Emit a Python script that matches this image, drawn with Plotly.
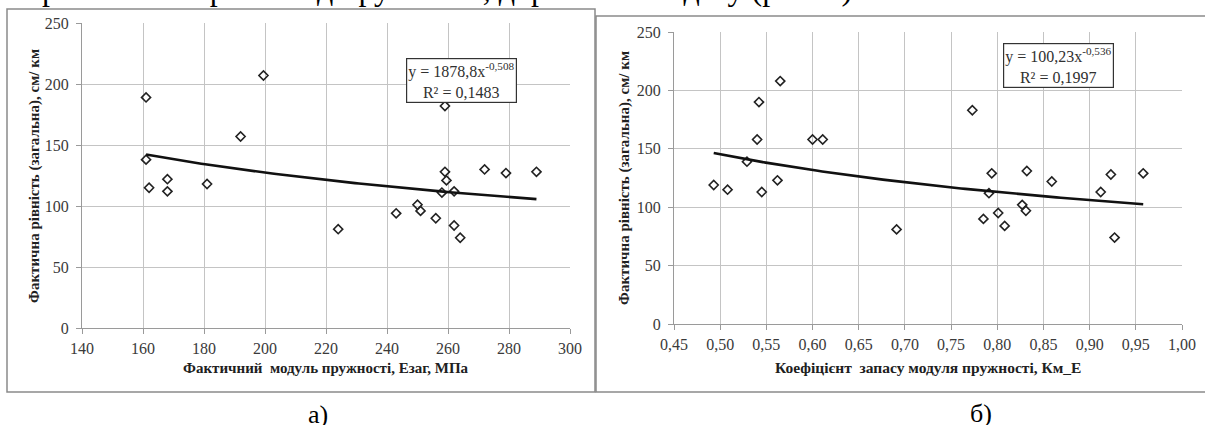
import numpy as np
import plotly.graph_objects as go

# ---- Data: panel a) ----
e_zag = [161, 161, 162, 168, 168, 181, 192, 199.5, 224, 243, 250, 251, 256,
         258, 259, 259, 259.5, 262, 262, 264, 272, 279, 289]
rough_a = [189, 138, 115, 122, 112, 118, 157, 207, 81, 94, 101, 96, 90,
           111, 182, 128, 121, 112, 84, 74, 130, 127, 128]
fit_a = (1878.8, -0.508)
eq_a = "y = 1878,8x<sup>-0,508</sup><br>R² = 0,1483"

# ---- Data: panel б) ----
km_e = [0.493, 0.508, 0.529, 0.540, 0.542, 0.545, 0.562, 0.565, 0.600, 0.611,
        0.691, 0.773, 0.785, 0.791, 0.794, 0.801, 0.808, 0.827, 0.831, 0.832,
        0.859, 0.912, 0.923, 0.927, 0.958]
rough_b = [119, 115, 139, 158, 190, 113, 123, 208, 158, 158,
           81, 183, 90, 112, 129, 95, 84, 102, 97, 131,
           122, 113, 128, 74, 129]
fit_b = (100.23, -0.536)
eq_b = "y = 100,23x<sup>-0,536</sup><br>R² = 0,1997"

y_title = "Фактична рівність (загальна), см/ км"
x_title_a = "Фактичний  модуль пружності, Езаг, МПа"
x_title_b = "Коефіцієнт  запасу модуля пружності, Км_Е"
top_text = "рівності покриття від пружності, дорожнього одягу (рис. 4)"

W, H = 1205, 425
def px(x): return x / W
def py(y): return 1 - y / H

SERIF = "Liberation Serif"
GRID = "#c4c4c4"
AXL = "#9a9a9a"
TXT = "#3a3a3a"

fig = go.Figure()

marker = dict(symbol="diamond-open", size=7, color="#222222", line=dict(width=1.6, color="#222222"))

fig.add_trace(go.Scatter(x=e_zag, y=rough_a, mode="markers", marker=marker,
                         xaxis="x", yaxis="y", showlegend=False))
xa = np.linspace(min(e_zag), max(e_zag), 100)
fig.add_trace(go.Scatter(x=xa, y=fit_a[0] * xa ** fit_a[1], mode="lines",
                         line=dict(color="#111111", width=2.6),
                         xaxis="x", yaxis="y", showlegend=False))

fig.add_trace(go.Scatter(x=km_e, y=rough_b, mode="markers", marker=marker,
                         xaxis="x2", yaxis="y2", showlegend=False))
xb = np.linspace(min(km_e), max(km_e), 100)
fig.add_trace(go.Scatter(x=xb, y=fit_b[0] * xb ** fit_b[1], mode="lines",
                         line=dict(color="#111111", width=2.6),
                         xaxis="x2", yaxis="y2", showlegend=False))

def xaxis(domain, rng, dtick, fmt, anchor):
    return dict(domain=domain, range=rng, dtick=dtick, tick0=rng[0], tickformat=fmt,
                showgrid=True, gridcolor=GRID, gridwidth=1,
                showline=True, linecolor=AXL, linewidth=1,
                ticks="outside", ticklen=5, tickcolor=AXL,
                ticklabelstandoff=1, automargin=False,
                tickfont=dict(family=SERIF, size=16, color=TXT),
                zeroline=False, anchor=anchor, fixedrange=True)

def yaxis(domain, anchor):
    return dict(domain=domain, range=[0, 250], dtick=50,
                showgrid=True, gridcolor=GRID, gridwidth=1,
                showline=True, linecolor=AXL, linewidth=1,
                ticks="outside", ticklen=5, tickcolor=AXL,
                ticklabelstandoff=4, automargin=False,
                tickfont=dict(family=SERIF, size=16, color=TXT),
                zeroline=False, anchor=anchor, fixedrange=True)

fig.update_layout(
    width=W, height=H,
    margin=dict(l=0, r=0, t=0, b=0, pad=0, autoexpand=False),
    paper_bgcolor="white", plot_bgcolor="white",
    separators=", ",
    xaxis=xaxis([px(82), px(570)], [140, 300], 20, "d", "y"),
    yaxis=yaxis([py(328), py(23)], "x"),
    xaxis2=xaxis([px(674), px(1182)], [0.45, 1.0], 0.05, ".2f", "y2"),
    yaxis2=yaxis([py(324), py(32)], "x2"),
)

# Chart frames
fig.add_shape(type="rect", xref="paper", yref="paper",
              x0=px(7), x1=px(595), y0=py(392), y1=py(9),
              line=dict(color="#8a8a8a", width=1.5), layer="below")
fig.add_shape(type="rect", xref="paper", yref="paper",
              x0=px(596), x1=px(1215), y0=py(392), y1=py(16),
              line=dict(color="#8a8a8a", width=1.5), layer="below")

def note(x, y, text, size, **kw):
    d = dict(x=px(x), y=py(y), xref="paper", yref="paper", text=text,
             xanchor="center", yanchor="middle", showarrow=False,
             font=dict(family=SERIF, size=size, color=kw.pop("color", "#202020")))
    d.update(kw)
    return d

ann = []
# axis titles
ann.append(note(326, 368, f"<b>{x_title_a}</b>", 15))
ann.append(note(928, 367, f"<b>{x_title_b}</b>", 15.5))
ann.append(note(35, 176, f"<b>{y_title}</b>", 15, textangle=-90))
ann.append(note(624, 178, f"<b>{y_title}</b>", 15, textangle=-90))
# equation boxes
ann.append(note(461.5, 81, eq_a, 16, color="#303030", bgcolor="white",
                bordercolor="#333333", borderwidth=1.2, borderpad=1))
ann.append(note(1058, 66, eq_b, 16, color="#303030", bgcolor="white",
                bordercolor="#333333", borderwidth=1.2, borderpad=1))
# panel labels
ann.append(note(318, 414, "а)", 26, color="black"))
ann.append(note(981, 413, "б)", 26, color="black"))
# clipped line of document text at the very top
ann.append(note(40, 9, top_text, 32, color="black", xanchor="left", yanchor="bottom"))
fig.update_layout(annotations=ann)

fig.write_html("out.html")
